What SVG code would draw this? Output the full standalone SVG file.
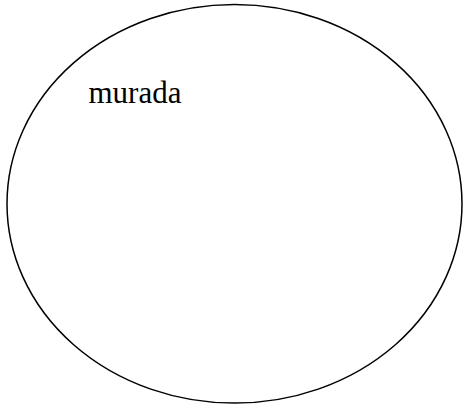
<svg xmlns="http://www.w3.org/2000/svg" width="466" height="408" viewBox="0 0 466 408">
<style>
.shape{fill:#fff;stroke:#000;stroke-width:1.5}
.label{font-family:"Liberation Serif","Times New Roman",serif;font-size:31px;fill:#000}
</style>
<rect width="466" height="408" fill="#fff"/>
<g id="murada">
<ellipse class="shape" cx="234.5" cy="203.8" rx="227.5" ry="199.3"/>
<text class="label" x="88.5" y="103">murada</text>
</g>
</svg>
